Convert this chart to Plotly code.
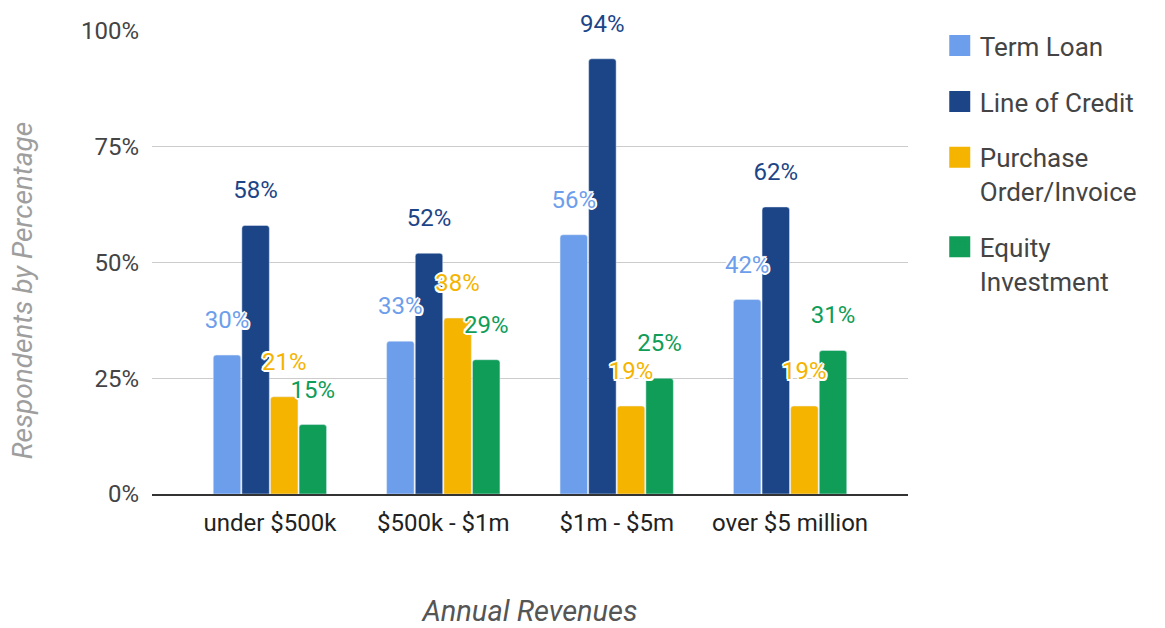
import plotly.graph_objects as go

categories = ["under $500k", "$500k - $1m", "$1m - $5m", "over $5 million"]
series_names = ["Term Loan", "Line of Credit", "Purchase<br>Order/Invoice", "Equity<br>Investment"]
term_loan = [30, 33, 56, 42]
line_of_credit = [58, 52, 94, 62]
purchase_order = [21, 38, 19, 19]
equity_investment = [15, 29, 25, 31]
y_ticks = [0, 25, 50, 75, 100]
y_tick_labels = ["0%", "25%", "50%", "75%", "100%"]

series_values = [term_loan, line_of_credit, purchase_order, equity_investment]
colors = ["#6d9eeb", "#1c4587", "#f4b400", "#0f9d58"]

FONT = "Roboto"
halo = "-1.5px -1.5px 0 #fff, 1.5px -1.5px 0 #fff, -1.5px 1.5px 0 #fff, 1.5px 1.5px 0 #fff, 0 2px 0 #fff, 0 -2px 0 #fff, 2px 0 0 #fff, -2px 0 0 #fff"

fig = go.Figure()

for i, (name, vals, col) in enumerate(zip(series_names, series_values, colors)):
    fig.add_trace(go.Bar(
        x=categories, y=vals, name=name, marker=dict(color=col, cornerradius=3),
        offsetgroup=str(i), showlegend=False, hoverinfo="skip",
    ))

for i, (name, vals, col) in enumerate(zip(series_names, series_values, colors)):
    fig.add_trace(go.Scatter(
        x=categories, y=vals, mode="markers+text", offsetgroup=str(i),
        text=[f"{v}%" for v in vals], textposition="top center",
        textfont=dict(family=FONT, size=24, color=col, shadow=halo),
        marker=dict(size=32, color="rgba(0,0,0,0)"),
        cliponaxis=False, showlegend=False, hoverinfo="skip",
    ))

for i, (name, col) in enumerate(zip(series_names, colors)):
    fig.add_trace(go.Scatter(
        x=[None], y=[None], mode="markers", name=name, offsetgroup=str(i),
        legendgroup=str(i),
        marker=dict(symbol="square", size=16, color=col, line=dict(color=col, width=5)),
    ))

fig.update_layout(
    width=1165, height=628,
    margin=dict(l=152, r=257, t=31, b=134, autoexpand=False),
    paper_bgcolor="white", plot_bgcolor="white",
    font=dict(family=FONT, color="#222"),
    barmode="group", bargap=0.34, bargroupgap=0.04,
    scattermode="group",
    legend=dict(
        x=1.042, xanchor="left", y=1.019, yanchor="top",
        font=dict(family=FONT, size=26, color="#444"),
        tracegroupgap=19, valign="top", itemclick=False,
    ),
    annotations=[dict(
        text="Respondents by Percentage", textangle=-90, showarrow=False,
        xref="paper", yref="paper", x=-0.172, y=0.44, xanchor="center", yanchor="middle",
        font=dict(family=FONT, size=28, color="#9e9e9e", style="italic"),
    )],
)

fig.update_xaxes(
    range=[-0.68, 3.68], showgrid=False, showline=True, linecolor="#333", linewidth=2,
    tickfont=dict(family=FONT, size=24, color="#222"), ticks="", ticklabelstandoff=6,
    automargin=False,
    title=dict(text="Annual Revenues", font=dict(family=FONT, size=29, color="#555", style="italic"), standoff=70),
)
fig.update_yaxes(
    range=[0, 100], tickvals=y_ticks, ticktext=y_tick_labels,
    showgrid=True, gridcolor="#cccccc", gridwidth=1, zeroline=False, automargin=False,
    tickfont=dict(family=FONT, size=24, color="#444"), ticks="", ticklabelstandoff=12,
)

fig.write_html("out.html", config={"displayModeBar": False},
               post_script="document.body.style.margin='0';")
